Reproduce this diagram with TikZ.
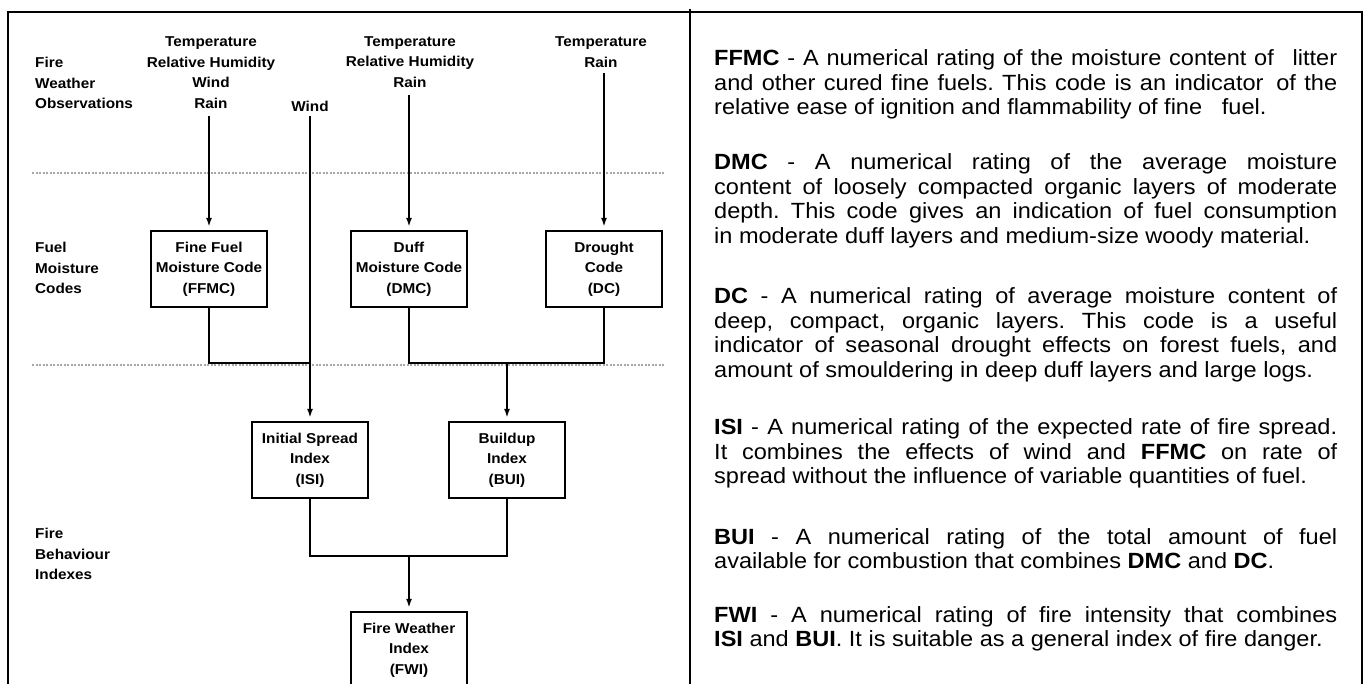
\documentclass[tikz,border=0pt]{standalone}
\usepackage{fontspec}
\setmainfont{Liberation Sans}[FakeStretch=1.07]
\usetikzlibrary{arrows.meta}
\frenchspacing
\newcommand{\jline}[1]{\makebox[623pt][s]{#1}\par}
\begin{document}
\begin{tikzpicture}[x=1pt,y=-1pt,
  lbl/.style={font=\fontsize{14.3}{20.5}\selectfont\bfseries, inner sep=0pt, align=center},
  lbll/.style={lbl, align=left, anchor=west},
  box/.style={draw, line width=2.3pt, minimum width=116pt, minimum height=76pt, inner sep=0pt, align=center, font=\fontsize{14.3}{20.5}\selectfont\bfseries},
  conn/.style={line width=2pt},
  arr/.style={conn, -{Latex[length=9pt,width=6pt]}, shorten >=3pt},
  sep/.style={gray!70, line width=1.2pt, dash pattern=on 2pt off 1.5pt},
  para/.style={anchor=base west, inner sep=0pt, font=\fontsize{22}{24.5}\selectfont},
  frame/.style={line width=2.6pt}
]
\useasboundingbox (0,0) rectangle (1369,684);
\clip (0,0) rectangle (1369,684);

% frame
\draw[frame] (8,700) -- (8,12) -- (1362,12) -- (1362,700);
\draw[frame] (690,9) -- (690,700);

% separators
\draw[sep] (32,173) -- (664,173);
\draw[sep] (32,365) -- (664,365);

% left row labels
\node[lbll] (obs) at (35,83) {Fire\\Weather\\Observations};
\node[lbll] (fmc) at (35,268) {Fuel\\Moisture\\Codes};
\node[lbll] (fbi) at (35,554) {Fire\\Behaviour\\Indexes};

% inputs
\node[lbl] (in1) at (211,72.5) {Temperature\\Relative Humidity\\Wind\\Rain};
\node[lbl] (in2) at (410,62) {Temperature\\Relative Humidity\\Rain};
\node[lbl] (in3) at (601,52) {Temperature\\Rain};
\node[lbl] (inw) at (310,106) {Wind};

\coordinate (c1) at (209,116);
\coordinate (cw) at (310,116);
\coordinate (c2) at (409,95);
\coordinate (c3) at (604,73);

% boxes
\node[box] (ffmc) at (209,269) {Fine Fuel\\Moisture Code\\(FFMC)};
\node[box] (dmc) at (409,269) {Duff\\Moisture Code\\(DMC)};
\node[box] (dc) at (604,269) {Drought\\Code\\(DC)};
\node[box] (isi) at (310,460) {Initial Spread\\Index\\(ISI)};
\node[box] (bui) at (507,460) {Buildup\\Index\\(BUI)};
\node[box] (fwi) at (409,650) {Fire Weather\\Index\\(FWI)};

% connectors
\draw[arr] (c1) -- (ffmc);
\draw[arr] (c2) -- (dmc);
\draw[arr] (c3) -- (dc);
\draw[arr] (cw) -- (isi);

\coordinate (h1) at (310,363);
\coordinate (h2) at (507,363);
\coordinate (h3) at (409,556);
\draw[conn] (ffmc.south) |- (h1);
\draw[conn] (dmc.south) |- (h2) -| (dc.south);
\draw[arr] (h2) -- (bui);
\draw[conn] (isi.south) |- (h3) -| (bui.south);
\draw[arr] (h3) -- (fwi);

% definitions
\node[para] (p1) at (714,66) {\parbox[t]{623pt}{%
\jline{\textbf{FFMC} - A numerical rating of the moisture content of\hspace{0.5em} litter}
\jline{and other cured fine fuels. This code is an indicator\hspace{0.2em} of the}
relative ease of ignition and flammability of fine\hspace{0.6em} fuel.}};
\node[para] (p2) at (714,170) {\parbox[t]{623pt}{%
\jline{\textbf{DMC} - A numerical rating of the average moisture}
\jline{content of loosely compacted organic layers of moderate}
\jline{depth. This code gives an indication of fuel consumption}
in moderate duff layers and medium-size woody material.}};
\node[para] (p3) at (714,304) {\parbox[t]{623pt}{%
\jline{\textbf{DC} - A numerical rating of average moisture content of}
\jline{deep, compact, organic layers. This code is a useful}
\jline{indicator of seasonal drought effects on forest fuels, and}
amount of smouldering in deep duff layers and large logs.}};
\node[para] (p4) at (714,435) {\parbox[t]{623pt}{%
\jline{\textbf{ISI} - A numerical rating of the expected rate of fire spread.}
\jline{It combines the effects of wind and \textbf{FFMC} on rate of}
spread without the influence of variable quantities of fuel.}};
\node[para] (p5) at (714,544) {\parbox[t]{623pt}{%
\jline{\textbf{BUI} - A numerical rating of the total amount of fuel}
available for combustion that combines \textbf{DMC} and \textbf{DC}.}};
\node[para] (p6) at (714,622) {\parbox[t]{623pt}{%
\jline{\textbf{FWI} - A numerical rating of fire intensity that combines}
\textbf{ISI} and \textbf{BUI}. It is suitable as a general index of fire danger.}};
\end{tikzpicture}
\end{document}
